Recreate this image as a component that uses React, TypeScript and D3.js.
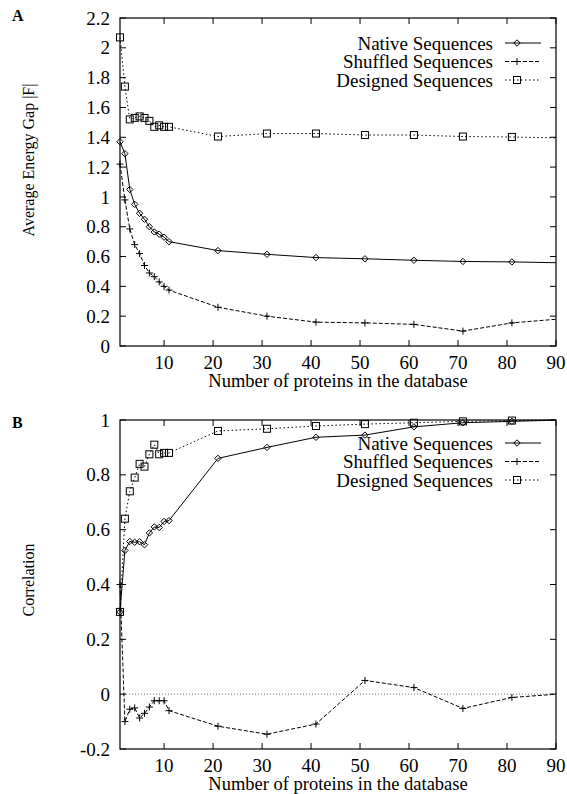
import React from 'react';
import * as d3 from 'd3';

// number of proteins in the database (last point sits just past the frame)
const proteins = [1, 2, 3, 4, 5, 6, 7, 8, 9, 10, 11, 21, 31, 41, 51, 61, 71, 81, 91];

// panel A: average energy gap |F|
const gapNative = [1.37, 1.29, 1.05, 0.95, 0.89, 0.85, 0.8, 0.765, 0.75, 0.73, 0.7, 0.64, 0.615, 0.593, 0.585, 0.575, 0.567, 0.564, 0.558];
const gapShuffled = [1.22, 0.98, 0.785, 0.68, 0.62, 0.54, 0.49, 0.465, 0.43, 0.4, 0.375, 0.26, 0.2, 0.16, 0.155, 0.145, 0.1, 0.155, 0.182];
const gapDesigned = [2.07, 1.74, 1.52, 1.53, 1.54, 1.53, 1.51, 1.47, 1.48, 1.47, 1.47, 1.405, 1.425, 1.425, 1.415, 1.415, 1.405, 1.402, 1.395];

// panel B: correlation
const corrNative = [0.3, 0.524, 0.557, 0.554, 0.556, 0.545, 0.588, 0.61, 0.608, 0.63, 0.633, 0.86, 0.9, 0.937, 0.945, 0.975, 0.99, 0.995, 1.0];
const corrShuffled = [0.4, -0.1, -0.055, -0.05, -0.087, -0.07, -0.047, -0.024, -0.024, -0.024, -0.06, -0.117, -0.146, -0.109, 0.05, 0.024, -0.052, -0.012, 0.001];
const corrDesigned = [0.3, 0.64, 0.74, 0.79, 0.84, 0.83, 0.875, 0.91, 0.875, 0.88, 0.88, 0.96, 0.968, 0.978, 0.985, 0.99, 0.995, 0.998, 1.0];

const seriesNames = ['Native Sequences', 'Shuffled Sequences', 'Designed Sequences'];
const xTicks = [10, 20, 30, 40, 50, 60, 70, 80, 90];
const gapTicks = [0, 0.2, 0.4, 0.6, 0.8, 1, 1.2, 1.4, 1.6, 1.8, 2, 2.2];
const corrTicks = [-0.2, 0, 0.2, 0.4, 0.6, 0.8, 1];

const FONT = '"Liberation Serif", "Times New Roman", serif';
const LEFT = 120;
const RIGHT = 556;
const x = d3.scaleLinear().domain([1, 90]).range([LEFT, RIGHT]);

const styles = [
  { dash: null, marker: 'diamond' },
  { dash: '4,2', marker: 'plus' },
  { dash: '1.5,2.5', marker: 'square' },
];

function Marker({ kind, cx, cy }) {
  const r = 3.2;
  if (kind === 'diamond') {
    return <path d={`M${cx},${cy - r}L${cx + r},${cy}L${cx},${cy + r}L${cx - r},${cy}Z`} fill="none" stroke="#000" strokeWidth={1} />;
  }
  if (kind === 'plus') {
    return <path d={`M${cx - 3.5},${cy}H${cx + 3.5}M${cx},${cy - 3.5}V${cy + 3.5}`} stroke="#000" strokeWidth={1} />;
  }
  return <rect x={cx - 3.5} y={cy - 3.5} width={7} height={7} fill="none" stroke="#000" strokeWidth={1} />;
}

function Panel({ id, letter, letterY, top, bottom, domain, ticks, values, yTitle, yTitleY, legendY, zeroLine }) {
  const y = d3.scaleLinear().domain(domain).range([bottom, top]);
  const line = d3.line<[number, number]>().x(d => x(d[0])).y(d => y(d[1]));
  const fmt = (v: number) => String(+v.toFixed(1));

  return (
    <g>
      <defs>
        <clipPath id={id}>
          <rect x={0} y={0} width={RIGHT} height={794} />
        </clipPath>
      </defs>
      <text x={12} y={letterY} fontFamily={FONT} fontWeight="bold" fontSize={16}>{letter}</text>

      {zeroLine && (
        <line x1={LEFT} x2={RIGHT} y1={y(0)} y2={y(0)} stroke="#555" strokeWidth={0.8} strokeDasharray="1,2" />
      )}

      {/* y ticks, left and right */}
      {ticks.map(t => (
        <g key={'y' + t}>
          <line x1={LEFT} x2={LEFT + 6} y1={y(t)} y2={y(t)} stroke="#000" />
          <line x1={RIGHT - 6} x2={RIGHT} y1={y(t)} y2={y(t)} stroke="#000" />
          <text x={110} y={y(t)} dy="0.35em" textAnchor="end" fontFamily={FONT} fontSize={19}>{fmt(t)}</text>
        </g>
      ))}

      {/* x ticks, bottom and top */}
      {xTicks.map(t => (
        <g key={'x' + t}>
          <line x1={x(t)} x2={x(t)} y1={bottom} y2={bottom - 6} stroke="#000" />
          <line x1={x(t)} x2={x(t)} y1={top} y2={top + 6} stroke="#000" />
          <text x={x(t)} y={bottom + 23} textAnchor="middle" fontFamily={FONT} fontSize={19}>{t}</text>
        </g>
      ))}

      <text x={(LEFT + RIGHT) / 2} y={bottom + 41} textAnchor="middle" fontFamily={FONT} fontSize={18.5}>
        Number of proteins in the database
      </text>
      <text transform={`translate(34,${yTitleY}) rotate(-90)`} textAnchor="middle" fontFamily={FONT} fontSize={16}>
        {yTitle}
      </text>

      <g clipPath={`url(#${id})`}>
        {values.map((vals, i) => {
          const pts = proteins.map((p, j) => [p, vals[j]] as [number, number]);
          return (
            <g key={i}>
              <path d={line(pts)} fill="none" stroke="#000" strokeWidth={1} strokeDasharray={styles[i].dash || undefined} />
              {pts.map((d, j) => (
                <Marker key={j} kind={styles[i].marker} cx={x(d[0])} cy={y(d[1])} />
              ))}
            </g>
          );
        })}
      </g>

      {/* legend */}
      {seriesNames.map((name, i) => {
        const ly = legendY + i * 18.5;
        return (
          <g key={name}>
            <text x={493} y={ly} dy="0.35em" textAnchor="end" fontFamily={FONT} fontSize={19}>{name}</text>
            <line x1={505} x2={541} y1={ly} y2={ly} stroke="#000" strokeWidth={1} strokeDasharray={styles[i].dash || undefined} />
            <Marker kind={styles[i].marker} cx={517} cy={ly} />
          </g>
        );
      })}

      <rect x={LEFT} y={top} width={RIGHT - LEFT} height={bottom - top} fill="none" stroke="#000" strokeWidth={1.2} />
    </g>
  );
}

export default function App() {
  return (
    <svg width={567} height={794} style={{ position: 'absolute', left: 0, top: 0, background: '#fff' }}>
      <rect width={567} height={794} fill="#fff" />
      <Panel
        id="clipA"
        letter="A"
        letterY={21}
        top={18}
        bottom={346}
        domain={[0, 2.2]}
        ticks={gapTicks}
        values={[gapNative, gapShuffled, gapDesigned]}
        yTitle="Average Energy Gap |F|"
        yTitleY={160}
        legendY={43}
      />
      <Panel
        id="clipB"
        letter="B"
        letterY={428}
        top={420}
        bottom={749}
        domain={[-0.2, 1]}
        ticks={corrTicks}
        values={[corrNative, corrShuffled, corrDesigned]}
        yTitle="Correlation"
        yTitleY={580}
        legendY={443}
        zeroLine
      />
    </svg>
  );
}
